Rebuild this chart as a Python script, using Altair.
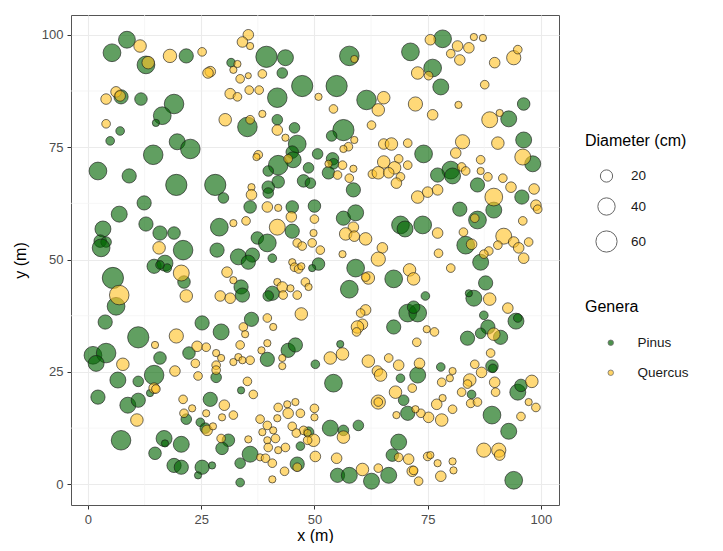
import altair as alt
import pandas as pd

# ---- data (x, y in m; diameter in cm) ----
pinus_x = [8.6, 5.3, 12.8, 21.7, 7.3, 11.7, 19.0, 16.4, 15.0, 7.1, 4.9, 19.7, 22.6, 14.4, 2.2, 9.1, 19.5, 28.1, 31.6,
           39.4, 43.6, 42.9, 47.3, 54.9, 41.8, 57.7, 61.5, 35.2, 41.8, 45.6, 46.2, 56.4, 53.8, 45.1, 45.3, 42.0, 39.8,
           50.7, 54.0, 54.2, 53.1, 48.7, 47.6, 42.0, 71.2, 78.3, 76.1, 77.9, 96.2, 92.9, 74.1, 96.2, 98.2, 80.1, 77.2,
           80.5, 86.0, 29.9, 12.4, 6.9, 12.8, 15.9, 19.0, 3.3, 2.7, 4.0, 2.9, 21.0, 29.0, 28.5, 14.6, 17.0, 17.5, 15.9,
           21.2, 5.5, 6.2, 3.8, 11.1, 25.2, 29.4, 39.8, 39.8, 49.1, 58.6, 35.8, 45.1, 50.0, 45.1, 56.4, 59.1, 69.0,
           70.0, 37.4, 39.6, 33.2, 36.3, 40.7, 35.4, 50.9, 49.5, 59.1, 67.5, 57.7, 40.7, 39.8, 33.8, 34.1, 36.1, 67.5,
           55.7, 95.8, 89.6, 82.1, 86.0, 73.9, 83.4, 86.7, 74.5, 87.8, 85.2, 84.1, 87.4, 94.5, 94.9, 70.6, 72.8, 71.9,
           88.3, 86.7, 91.1, 83.8, 1.1, 4.0, 1.8, 15.9, 14.6, 11.1, 13.7, 6.6, 2.2, 8.8, 11.1, 7.3, 16.8, 20.6, 14.8,
           17.0, 19.0, 20.6, 25.2, 24.3, 27.4, 22.3, 28.3, 27.0, 21.7, 24.8, 25.9, 31.0, 29.6, 39.6, 44.2, 45.8, 50.2,
           54.2, 69.0, 33.8, 46.9, 35.8, 33.6, 33.6, 46.2, 48.7, 53.5, 56.4, 59.7, 55.1, 57.7, 62.6, 66.4, 68.6, 67.2,
           89.2, 89.4, 72.8, 77.9, 84.7, 94.9, 95.6, 69.7, 70.6, 89.2, 92.9, 94.0]
pinus_y = [98.9, 96.0, 93.3, 95.3, 86.2, 85.7, 84.6, 82.0, 80.4, 78.6, 76.4, 76.2, 74.6, 73.3, 69.7, 68.6, 66.6, 66.6, 93.8,
           95.1, 94.9, 91.5, 88.6, 88.6, 86.0, 95.3, 85.5, 79.5, 81.1, 79.3, 75.7, 78.8, 77.5, 73.9, 72.2, 71.0, 69.7,
           73.5, 72.4, 71.3, 69.3, 70.4, 67.5, 67.3, 96.2, 99.1, 92.6, 88.4, 84.6, 81.3, 73.5, 76.6, 71.3, 69.9, 68.8,
           68.6, 66.6, 63.7, 62.6, 60.1, 57.9, 55.9, 55.9, 56.8, 54.1, 53.9, 52.6, 52.1, 57.2, 52.1, 48.5, 49.2, 48.1, 48.8,
           45.0, 45.9, 39.6, 36.1, 32.7, 35.9, 33.9, 66.1, 64.8, 67.0, 65.5, 61.7, 61.7, 61.9, 56.3, 59.2, 60.4, 57.7,
           56.8, 54.8, 53.7, 50.6, 51.0, 50.3, 49.4, 49.0, 48.1, 48.1, 45.7, 43.4, 42.5, 41.9, 43.9, 42.1, 36.7, 35.0,
           31.2, 63.9, 61.0, 61.2, 58.8, 57.7, 53.2, 49.4, 41.9, 44.8, 41.4, 42.5, 37.6, 36.3, 37.0, 38.1, 38.1, 39.4,
           35.0, 33.6, 32.7, 32.5, 28.7, 29.2, 26.9, 28.1, 24.3, 22.9, 20.3, 23.2, 19.4, 17.6, 18.7, 9.8, 10.2, 8.9, 6.9,
           9.1, 4.2, 3.8, 3.8, 2.0, 4.2, 29.2, 23.8, 18.9, 14.5, 13.8, 12.5, 9.8, 8.0, 27.8, 29.8, 31.0, 26.7,
           22.5, 23.6, 20.9, 8.5, 6.7, 4.7, 0.4, 4.5, 11.6, 12.5, 12.0, 13.1, 2.0, 2.0, 0.7, 2.0, 9.4, 6.5,
           26.3, 25.8, 24.3, 26.1, 20.0, 20.5, 22.0, 18.7, 15.8, 15.4, 11.8, 0.9]
pinus_d = [38, 42, 42, 27, 27, 21, 51, 42, 7, 10, 10, 34, 51, 51, 42, 27, 60, 60, 10,
           60, 34, 15, 60, 60, 51, 51, 51, 51, 15, 15, 42, 60, 15, 21, 34, 51, 15,
           15, 21, 15, 21, 15, 21, 21, 42, 42, 42, 34, 21, 34, 42, 34, 34, 42, 27,
           34, 27, 15, 27, 34, 27, 27, 21, 34, 21, 15, 42, 51, 42, 27, 27, 34, 10, 10,
           21, 60, 42, 27, 60, 27, 34, 21, 15, 15, 27, 21, 21, 21, 27, 27, 34, 42,
           34, 21, 42, 34, 27, 10, 27, 21, 7, 42, 42, 42, 27, 15, 27, 27, 27, 27,
           7, 27, 34, 27, 42, 42, 42, 34, 10, 27, 34, 7, 10, 34, 10, 42, 42, 21,
           27, 15, 27, 27, 42, 51, 34, 21, 51, 15, 7, 34, 27, 34, 27, 51, 34, 34, 21,
           7, 27, 27, 27, 7, 7, 21, 15, 27, 15, 10, 15, 21, 21, 27, 27, 27, 10,
           42, 10, 7, 10, 34, 15, 10, 27, 15, 34, 15, 15, 27, 34, 34, 34, 34, 21,
           21, 10, 34, 10, 10, 34, 21, 15, 27, 42, 34, 42]

quercus_x = [11.5, 13.3, 18.1, 25.2, 27.0, 26.5, 4.0, 6.2, 7.1, 4.0, 30.3, 31.4, 32.1,
             35.4, 34.1, 35.8, 33.0, 33.6, 35.4, 38.5, 35.6, 37.8, 33.0, 50.9, 58.8, 54.2, 65.3, 64.1, 38.5, 35.8,
             41.8, 43.6, 62.6, 58.8, 57.5, 56.4, 65.3, 67.0, 44.2, 37.6, 37.2, 53.1, 56.2, 55.1, 58.6, 57.7, 65.3,
             68.6, 67.7, 62.8, 64.1, 66.4, 69.0,
             75.6, 81.6, 84.1, 85.2, 87.2, 80.1, 82.1, 72.8, 75.2, 89.8, 94.0, 94.9, 87.6, 72.3, 76.1, 81.8, 88.7,
             90.9, 70.6, 82.7, 81.2, 90.5, 96.0, 86.7, 70.6, 82.5, 83.4, 86.7, 88.3, 91.6,
             32.1, 15.7, 20.6, 21.7, 6.9, 19.5, 30.7, 32.1, 29.2, 31.4,
             36.1, 36.1, 68.1, 39.6, 42.0, 44.9, 34.9, 50.0, 41.8, 58.6, 56.9, 58.8, 61.3, 46.2, 47.3, 49.5, 49.8,
             51.3, 56.2, 65.0, 64.1, 45.1, 45.6, 46.5, 47.1, 61.9, 61.3, 41.8, 42.9, 44.7, 48.0, 48.7, 43.1, 46.2,
             47.1, 61.3, 60.2, 60.6, 59.5, 59.3, 39.6, 40.9, 34.3, 34.7,
             72.8, 75.0, 77.2, 93.4, 98.5, 89.6, 98.9, 99.3, 85.4, 77.2, 96.0, 82.9, 84.7, 91.8, 94.0, 97.3, 95.1,
             96.2, 90.5, 88.5, 87.4, 77.4, 80.1, 71.0, 71.9, 88.7, 92.7, 74.8, 76.5, 89.6, 72.6,
             7.7, 14.8, 14.6, 15.0, 10.8, 19.2, 24.3, 23.7, 24.1, 26.1, 28.3, 28.3, 28.3, 29.4, 32.1, 21.0, 23.0,
             21.2, 26.1, 30.1, 29.6, 32.1, 26.3, 27.6, 29.4,
             33.6, 33.2, 35.8, 34.1, 38.3, 39.6, 42.9, 42.9, 53.5, 56.2, 61.9, 63.9, 64.6, 66.4, 68.6, 35.2, 36.5,
             64.1, 64.1, 67.9, 68.1, 42.0, 44.0, 45.8, 50.0, 50.0, 38.0, 39.6, 41.8, 44.2, 46.9, 45.1, 47.6, 38.5,
             40.9, 41.4, 39.6, 46.0, 48.5, 49.8, 48.5, 39.8, 43.6, 42.0, 38.0, 39.2, 40.7, 35.4, 50.2, 46.2, 43.4,
             40.7, 56.4, 54.9, 60.6, 64.1, 68.6,
             88.9, 86.9, 85.4, 73.2, 80.5, 79.9, 78.1, 84.3, 83.8, 82.5, 84.5, 86.0, 89.8, 90.0, 98.0, 97.3, 98.9,
             71.6, 78.3, 77.0, 80.5, 78.1, 75.2, 73.5, 72.3, 95.6, 87.4, 90.7, 90.9, 70.8, 71.6, 71.9, 73.0, 75.0,
             75.6, 77.2, 77.9, 80.5, 80.7]
quercus_y = [97.5, 93.8, 95.3, 96.2, 91.8, 91.5, 85.7, 87.3, 86.4, 80.2, 81.1, 86.9, 92.2,
             100.0, 98.4, 97.5, 93.5, 90.2, 90.9, 91.3, 87.7, 87.7, 86.2, 86.2, 94.6, 83.5, 86.0, 83.3, 82.4, 81.1,
             78.8, 77.1, 79.9, 76.6, 75.1, 74.6, 75.7, 75.7, 72.4, 73.3, 72.8, 71.3, 71.0, 68.8, 70.2, 68.1, 71.7,
             72.4, 70.4, 69.0, 69.3, 69.3, 68.4,
             98.9, 97.5, 97.1, 99.5, 99.3, 95.8, 94.4, 91.5, 90.9, 93.8, 94.9, 96.7, 88.9, 84.6, 82.2, 84.4, 81.1,
             82.6, 75.9, 76.2, 73.7, 75.9, 72.8, 72.2, 71.0, 70.6, 69.7, 69.7, 68.4, 68.1,
             58.1, 52.6, 47.0, 41.9, 42.1, 33.0, 47.2, 45.4, 41.9, 41.4,
             66.1, 64.4, 67.0, 61.7, 61.5, 59.5, 58.6, 59.0, 57.2, 57.2, 55.7, 55.2, 54.6, 53.7, 53.0, 53.7, 55.9,
             52.1, 51.2, 52.6, 50.1, 49.4, 48.3, 47.9, 48.5, 45.9, 46.1, 45.0, 43.9, 43.6, 45.0, 43.9, 42.1, 42.1,
             37.9, 38.8, 38.1, 35.6, 35.0, 33.9, 37.0, 35.0, 35.0, 33.4,
             63.9, 65.0, 65.5, 66.1, 65.7, 63.9, 62.1, 61.2, 59.2, 55.9, 58.6, 56.1, 53.4, 55.2, 53.9, 53.9, 52.6,
             50.3, 53.2, 51.9, 51.2, 51.4, 48.1, 47.7, 45.7, 41.2, 39.2, 34.5, 33.9, 33.4, 31.6,
             26.7, 31.0, 21.4, 21.2, 14.3, 25.2, 24.1, 26.9, 30.7, 30.5, 29.2, 26.5, 25.4, 28.1, 27.2, 18.9, 16.9,
             15.8, 15.8, 17.6, 14.9, 15.4, 12.0, 12.9, 10.2,
             31.0, 28.3, 27.6, 27.6, 29.8, 31.4, 28.1, 26.3, 28.1, 29.0, 27.4, 25.2, 24.3, 28.1, 26.5, 22.9, 20.0,
             18.3, 18.3, 20.5, 15.4, 17.1, 17.8, 18.3, 16.9, 14.9, 14.5, 13.1, 14.7, 15.8, 15.8, 12.9, 12.0, 11.6,
             12.0, 10.2, 9.8, 11.4, 11.4, 9.8, 9.8, 8.2, 8.2, 7.6, 6.0, 5.8, 4.7, 10.0, 6.2, 3.8, 2.9,
             1.1, 10.5, 5.8, 3.3, 3.6, 6.0,
             29.2, 24.9, 26.7, 26.9, 25.2, 23.6, 22.7, 23.2, 22.3, 20.5, 18.0, 18.3, 22.7, 20.5, 22.9, 18.3, 17.1,
             21.4, 19.2, 17.8, 16.7, 14.3, 14.9, 15.8, 16.7, 15.1, 7.6, 7.6, 6.5, 5.6, 2.9, 3.1, 0.7, 6.2,
             6.5, 4.7, 1.8, 5.1, 3.1]
quercus_d = [21, 21, 24, 10, 15, 15, 15, 15, 15, 10, 21, 15, 7,
             15, 15, 7, 7, 10, 5, 10, 10, 10, 10, 7, 7, 10, 21, 21, 7, 10,
             15, 7, 10, 7, 10, 7, 15, 21, 10, 10, 7, 7, 10, 10, 7, 10, 21,
             10, 21, 10, 21, 15, 10,
             15, 15, 15, 7, 7, 10, 15, 21, 10, 15, 27, 10, 10, 27, 15, 7, 34,
             7, 10, 27, 15, 21, 34, 10, 10, 10, 10, 7, 10, 10,
             7, 21, 34, 21, 51, 27, 15, 7, 15, 15,
             7, 15, 15, 15, 7, 15, 10, 10, 34, 15, 21, 15, 21, 10, 10, 10, 7,
             10, 7, 15, 27, 7, 10, 10, 7, 21, 10, 7, 15, 7, 10, 7, 10, 10,
             21, 15, 10, 15, 21, 10, 10, 7, 10, 7,
             21, 15, 15, 15, 15, 42, 15, 10, 10, 15, 10, 10, 15, 34, 15, 10, 15,
             15, 10, 10, 10, 10, 10, 21, 21, 21, 15, 7, 10, 21, 10,
             21, 7, 15, 10, 21, 15, 10, 10, 15, 10, 7, 10, 10, 7, 7, 10, 7,
             10, 7, 15, 7, 10, 15, 7, 10,
             10, 7, 10, 7, 7, 7, 7, 7, 21, 21, 21, 15, 21, 10, 15, 10, 10,
             27, 10, 21, 7, 10, 7, 7, 10, 7, 10, 10, 7, 15, 10, 10, 10, 7,
             7, 10, 7, 10, 7, 21, 10, 10, 10, 7, 7, 10, 10, 7, 15, 10, 10,
             7, 21, 15, 21, 10, 10,
             10, 15, 10, 15, 7, 7, 10, 21, 10, 10, 10, 10, 15, 10, 21, 7, 10,
             10, 7, 15, 10, 21, 15, 10, 7, 10, 27, 27, 15, 15, 15, 10, 10, 10,
             7, 7, 15, 7, 7]

genera = ["Pinus", "Quercus"]
genus_colors = ["#006400", "#FFC125"]
tick_values = [0, 25, 50, 75, 100]
minor_breaks = [12.5, 37.5, 62.5, 87.5]
size_legend_values = [20, 40, 60]

df = pd.concat([
    pd.DataFrame({"x": pinus_x, "y": pinus_y, "d": pinus_d, "Genera": "Pinus"}),
    pd.DataFrame({"x": quercus_x, "y": quercus_y, "d": quercus_d, "Genera": "Quercus"}),
], ignore_index=True)

FONT = "Liberation Sans"
x_scale = alt.Scale(domain=[-3.75, 104.0], nice=False, zero=False)
y_scale = alt.Scale(domain=[-4.6, 104.4], nice=False, zero=False)
x_axis = alt.Axis(values=tick_values, title="x (m)", grid=True, labelPadding=4, titlePadding=1)
y_axis = alt.Axis(values=tick_values, title="y (m)", grid=True, labelPadding=4, titlePadding=13)

minor_df = pd.DataFrame({"v": minor_breaks})
vminor = alt.Chart(minor_df).mark_rule(color="#F2F2F2", strokeWidth=0.7).encode(
    x=alt.X("v:Q", scale=x_scale, axis=x_axis))
hminor = alt.Chart(minor_df).mark_rule(color="#F2F2F2", strokeWidth=0.7).encode(
    y=alt.Y("v:Q", scale=y_scale, axis=y_axis))

points = alt.Chart(df).mark_point(
    filled=True, shape="circle", opacity=1, fillOpacity=0.62,
    stroke="#1a1a1a", strokeWidth=0.8, strokeOpacity=0.8
).encode(
    x=alt.X("x:Q", scale=x_scale, axis=x_axis),
    y=alt.Y("y:Q", scale=y_scale, axis=y_axis),
    fill=alt.Fill("Genera:N", scale=alt.Scale(domain=genera, range=genus_colors),
                  legend=alt.Legend(title="Genera", orient="none", legendX=514, legendY=284,
                                    symbolSize=30, symbolStrokeColor="#333333", symbolStrokeWidth=0.8,
                                    symbolOpacity=0.7, symbolOffset=19, labelOffset=20, rowPadding=15,
                                    titlePadding=21)),
    size=alt.Size("d:Q", scale=alt.Scale(domain=[0, 80], range=[0, 600]),
                  legend=alt.Legend(title="Diameter (cm)", orient="none", legendX=514, legendY=118,
                                    values=size_legend_values, symbolFillColor="white",
                                    symbolStrokeColor="#666666", symbolStrokeWidth=1,
                                    symbolOffset=10, labelOffset=13, rowPadding=10, titlePadding=20)),
)

chart = alt.layer(vminor, hminor, points).properties(
    width=488, height=490,
    autosize=alt.AutoSizeParams(type="none"),
    padding={"left": 63, "top": 7, "right": 156, "bottom": 38},
).configure(font=FONT).configure_view(
    stroke="#555555", strokeWidth=1
).configure_axis(
    gridColor="#EBEBEB", gridWidth=1.1, domain=False, tickColor="#333333", tickSize=4,
    labelColor="#4D4D4D", labelFontSize=13, labelFont=FONT,
    titleFontSize=16, titleFontWeight="normal", titleColor="#000000", titleFont=FONT
).configure_legend(
    titleFontSize=16, titleFontWeight="normal", titleColor="#000000", titleFont=FONT,
    labelFontSize=13.5, labelColor="#1a1a1a", labelFont=FONT
)

chart.save("out.html", embed_options={"renderer": "svg", "actions": False})
